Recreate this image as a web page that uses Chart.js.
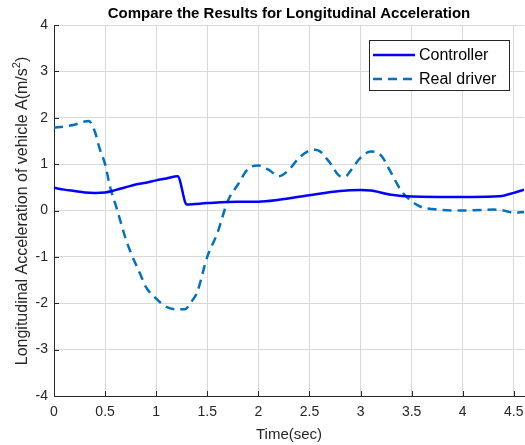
<!DOCTYPE html>
<html>
<head>
<meta charset="utf-8">
<script src="https://cdn.jsdelivr.net/npm/chart.js@4"></script>
<style>
html,body{margin:0;padding:0;background:#fff;}
#wrap{position:relative;width:525px;height:445px;}
</style>
</head>
<body>
<div id="wrap"><canvas id="c" width="525" height="445"></canvas></div>
<script>
const chartTitle = "Compare the Results for Longitudinal Acceleration";
const xTitle = "Time(sec)";
const yTitleMain = "Longitudinal Acceleration of vehicle A(m/s";
const yTitleSup = "2";
const yTitleEnd = ")";
const seriesNames = ["Controller", "Real driver"];

const controllerTime = [0, 0.1, 0.2, 0.3, 0.4, 0.5, 0.6, 0.7, 0.8, 0.9, 1.0, 1.1, 1.21, 1.3, 1.5, 1.8, 2.0, 2.2, 2.5, 2.8, 3.0, 3.1, 3.3, 3.5, 4.0, 4.3, 4.4, 4.5, 4.6];
const controllerAcc = [0.49, 0.45, 0.42, 0.39, 0.38, 0.39, 0.44, 0.50, 0.56, 0.60, 0.65, 0.69, 0.74, 0.13, 0.16, 0.19, 0.19, 0.23, 0.33, 0.42, 0.44, 0.43, 0.34, 0.30, 0.29, 0.30, 0.32, 0.38, 0.45];

const driverTime = [0, 0.1, 0.2, 0.3, 0.34, 0.4, 0.45, 0.5, 0.55, 0.62, 0.7, 0.75, 0.85, 0.9, 1.0, 1.1, 1.2, 1.28, 1.35, 1.4, 1.5, 1.6, 1.7, 1.8, 1.9, 2.0, 2.1, 2.2, 2.3, 2.4, 2.5, 2.55, 2.6, 2.7, 2.8, 2.85, 2.9, 3.0, 3.1, 3.2, 3.3, 3.4, 3.5, 3.6, 3.7, 3.8, 4.0, 4.2, 4.3, 4.4, 4.5, 4.6];
const driverAcc = [1.79, 1.81, 1.85, 1.92, 1.93, 1.70, 1.31, 1.00, 0.50, 0.00, -0.60, -0.90, -1.40, -1.65, -1.90, -2.08, -2.13, -2.13, -1.95, -1.77, -1.00, -0.48, 0.20, 0.56, 0.90, 0.97, 0.88, 0.74, 0.88, 1.14, 1.29, 1.31, 1.28, 1.03, 0.74, 0.73, 0.85, 1.14, 1.27, 1.19, 0.81, 0.42, 0.20, 0.07, 0.03, 0.01, 0.00, 0.01, 0.02, 0.00, -0.05, -0.03];

const xMin = 0, xMax = 4.6, xStep = 0.5;
const yMin = -4, yMax = 4, yStep = 1;

const FONT = '"Liberation Sans", Arial, Helvetica, sans-serif';
const AX = '#262626';
const GRID = '#d8d8d8';
const C1 = '#0000ff';
const C2 = '#0072bd';
const DASH = [9, 6];

function pts(xs, ys){ return xs.map((x,i)=>({x:x, y:ys[i]})); }

const overlay = {
  id: 'overlay',
  afterDraw(chart){
    const ctx = chart.ctx, ca = chart.chartArea;
    ctx.save();
    // title
    ctx.fillStyle = '#000';
    ctx.font = 'bold 15px ' + FONT;
    ctx.textAlign = 'center';
    ctx.textBaseline = 'middle';
    ctx.fillText(chartTitle, (ca.left + ca.right)/2, 14);
    // y title with superscript
    ctx.save();
    ctx.translate(22, 211);
    ctx.rotate(-Math.PI/2);
    ctx.fillStyle = AX;
    ctx.font = '16px ' + FONT;
    const wMain = ctx.measureText(yTitleMain).width;
    ctx.font = '11px ' + FONT;
    const wSup = ctx.measureText(yTitleSup).width;
    ctx.font = '16px ' + FONT;
    const wEnd = ctx.measureText(yTitleEnd).width;
    const total = wMain + wSup + wEnd;
    let x0 = -total/2;
    ctx.textAlign = 'left';
    ctx.textBaseline = 'alphabetic';
    ctx.fillText(yTitleMain, x0, 5);
    ctx.font = '11px ' + FONT;
    ctx.fillText(yTitleSup, x0 + wMain, -2);
    ctx.font = '16px ' + FONT;
    ctx.fillText(yTitleEnd, x0 + wMain + wSup, 5);
    ctx.restore();
    // inward tick marks
    ctx.strokeStyle = AX; ctx.lineWidth = 1;
    const xs = chart.scales.x, ys = chart.scales.y;
    for (let v = xMin; v <= xMax + 1e-9; v += xStep){
      const px = Math.round(xs.getPixelForValue(v)) + 0.5;
      ctx.beginPath(); ctx.moveTo(px, ca.bottom); ctx.lineTo(px, ca.bottom - 5); ctx.stroke();
    }
    for (let v = yMin; v <= yMax + 1e-9; v += yStep){
      const py = Math.round(ys.getPixelForValue(v)) + 0.5;
      ctx.beginPath(); ctx.moveTo(ca.left, py); ctx.lineTo(ca.left + 5, py); ctx.stroke();
    }
    // legend
    const bx = 369.5, by = 40.5, bw = 140, bh = 50;
    ctx.fillStyle = '#fff';
    ctx.fillRect(bx, by, bw, bh);
    ctx.strokeStyle = AX; ctx.lineWidth = 1;
    ctx.strokeRect(bx, by, bw, bh);
    const rows = [[C1, [], 55], [C2, DASH, 79]];
    rows.forEach((r, i) => {
      ctx.strokeStyle = r[0]; ctx.lineWidth = 2.5; ctx.setLineDash(r[1]);
      ctx.beginPath(); ctx.moveTo(373, r[2]); ctx.lineTo(415, r[2]); ctx.stroke();
      ctx.setLineDash([]);
      ctx.fillStyle = '#000';
      ctx.font = '16px ' + FONT;
      ctx.textAlign = 'left';
      ctx.textBaseline = 'middle';
      ctx.fillText(seriesNames[i], 419, r[2] + 1);
    });
    ctx.restore();
  }
};

new Chart(document.getElementById('c'), {
  type: 'line',
  data: {
    datasets: [
      { label: seriesNames[0], data: pts(controllerTime, controllerAcc), borderColor: C1, borderWidth: 2.5, pointRadius: 0, cubicInterpolationMode: 'monotone', fill: false },
      { label: seriesNames[1], data: pts(driverTime, driverAcc), borderColor: C2, borderWidth: 2.5, borderDash: DASH, pointRadius: 0, cubicInterpolationMode: 'monotone', fill: false }
    ]
  },
  options: {
    responsive: false,
    animation: false,
    devicePixelRatio: 1,
    layout: { padding: { top: 25, right: 1, left: 0, bottom: 0 } },
    plugins: { legend: { display: false }, title: { display: false }, tooltip: { enabled: false } },
    scales: {
      x: {
        type: 'linear', min: xMin, max: xMax,
        afterFit(s){ s.height = 49; s.paddingLeft = 0; s.paddingRight = 0; },
        ticks: { stepSize: xStep, includeBounds: false, color: AX, padding: 8, maxRotation: 0, font: { family: FONT, size: 14 }, callback: v => String(v) },
        grid: { color: GRID, drawTicks: false, lineWidth: 1 },
        border: { color: AX, width: 1 },
        title: { display: true, text: xTitle, color: AX, font: { family: FONT, size: 15 }, padding: { top: 0, bottom: 1 } }
      },
      y: {
        type: 'linear', min: yMin, max: yMax,
        afterFit(s){ s.width = 54; s.paddingTop = 0; s.paddingBottom = 0; },
        ticks: { stepSize: yStep, color: AX, padding: 6, font: { family: FONT, size: 14 }, callback: v => String(v) },
        grid: { color: GRID, drawTicks: false, lineWidth: 1 },
        border: { color: AX, width: 1 },
        title: { display: false }
      }
    }
  },
  plugins: [overlay]
});
</script>
</body>
</html>
